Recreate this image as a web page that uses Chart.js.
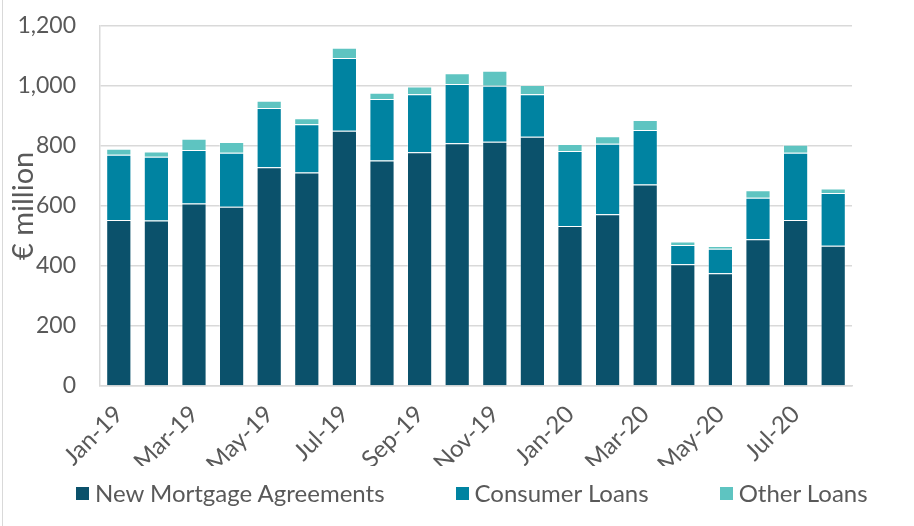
<!DOCTYPE html>
<html>
<head>
<meta charset="utf-8">
<script src="https://cdn.jsdelivr.net/npm/chart.js@4.4.1/dist/chart.umd.min.js"></script>
<style>
  body { margin: 0; background: #fff; }
  #wrap { position: relative; width: 914px; height: 526px; }
  #wrap:before { content: ''; position: absolute; left: 2px; top: 0; bottom: 0; border-left: 1px solid #d9d9d9; }
  #legend { position: absolute; left: 76px; top: 478px; display: flex; gap: 71px;
            font-family: Lato, sans-serif; font-size: 24px; color: #595959; line-height: 30px; }
  .item { display: flex; align-items: center; }
  .sw { width: 13px; height: 13px; margin-right: 6px; }
</style>
</head>
<body>
<div id="wrap">
  <canvas id="Chart" width="914" height="526"></canvas>
  <div id="legend"></div>
</div>
<script>
const months = ['Jan-19', 'Feb-19', 'Mar-19', 'Apr-19', 'May-19', 'Jun-19', 'Jul-19', 'Aug-19', 'Sep-19', 'Oct-19',
                'Nov-19', 'Dec-19', 'Jan-20', 'Feb-20', 'Mar-20', 'Apr-20', 'May-20', 'Jun-20', 'Jul-20', 'Aug-20'];
const mortgages = [553, 551, 608, 597, 729, 711, 850, 751, 779, 809, 814, 830, 533, 572, 671, 406, 376, 489, 553, 467];
const consumer = [217, 213, 178, 180, 197, 161, 243, 205, 193, 197, 186, 142, 250, 235, 182, 64, 81, 138, 224, 176];
const other = [20, 17, 38, 36, 24, 20, 34, 21, 26, 36, 50, 31, 23, 25, 33, 11, 9, 25, 27, 15];
const yTicks = [0, 200, 400, 600, 800, 1000, 1200];

const seriesNames = ['New Mortgage Agreements', 'Consumer Loans', 'Other Loans'];
const colours = ['#0b516b', '#0083a1', '#5ec4c1'];
const grey = '#595959';

function makeSet(i, values) {
    return {
        label: seriesNames[i],
        data: values,
        backgroundColor: colours[i],
        borderColor: 'rgba(255,255,255,0.35)',
        borderWidth: 1,
        categoryPercentage: 1,
        barPercentage: 0.67
    };
}

const ctx = document.getElementById('Chart').getContext('2d');
const myChart = new Chart(ctx, {
    type: 'bar',
    data: {
        labels: months,
        datasets: [makeSet(0, mortgages), makeSet(1, consumer), makeSet(2, other)]
    },
    options: {
        responsive: false,
        animation: false,
        layout: { padding: { top: 15, bottom: 60, left: 0, right: 62 } },
        plugins: { legend: { display: false }, tooltip: { enabled: false } },
        scales: {
            x: {
                stacked: true,
                grid: { display: false, drawTicks: false },
                border: { color: '#d9d9d9', width: 1.5 },
                ticks: {
                    autoSkip: false,
                    minRotation: 45,
                    maxRotation: 45,
                    padding: 14,
                    color: grey,
                    font: { family: 'Lato', size: 24 },
                    callback: (v, i) => (i % 2 === 0 ? months[i] : '')
                },
                afterFit: s => { s.height = 80; }
            },
            y: {
                stacked: true,
                min: 0,
                max: 1200,
                afterBuildTicks: s => { s.ticks = yTicks.map(v => ({ value: v })); },
                grid: { color: '#d9d9d9', lineWidth: 1.5, drawTicks: true, tickLength: 12, tickColor: 'rgba(0,0,0,0)' },
                border: { display: true, color: '#d9d9d9', width: 1.5 },
                ticks: {
                    padding: 12,
                    color: grey,
                    font: { family: 'Lato', size: 23 },
                    callback: v => v.toLocaleString('en-US')
                },
                title: {
                    display: true,
                    text: '€ million',
                    color: grey,
                    font: { family: 'Lato', size: 29 },
                    padding: { top: 6, bottom: 0 }
                },
                afterFit: s => { s.width = 100; }
            }
        }
    }
});

// legend drawn as html below the chart
const legendEl = document.getElementById('legend');
seriesNames.forEach((name, i) => {
    const item = document.createElement('div');
    item.className = 'item';
    item.innerHTML = '<span class="sw" style="background:' + colours[i] + '"></span>' + name;
    legendEl.appendChild(item);
});
</script>
</body>
</html>
